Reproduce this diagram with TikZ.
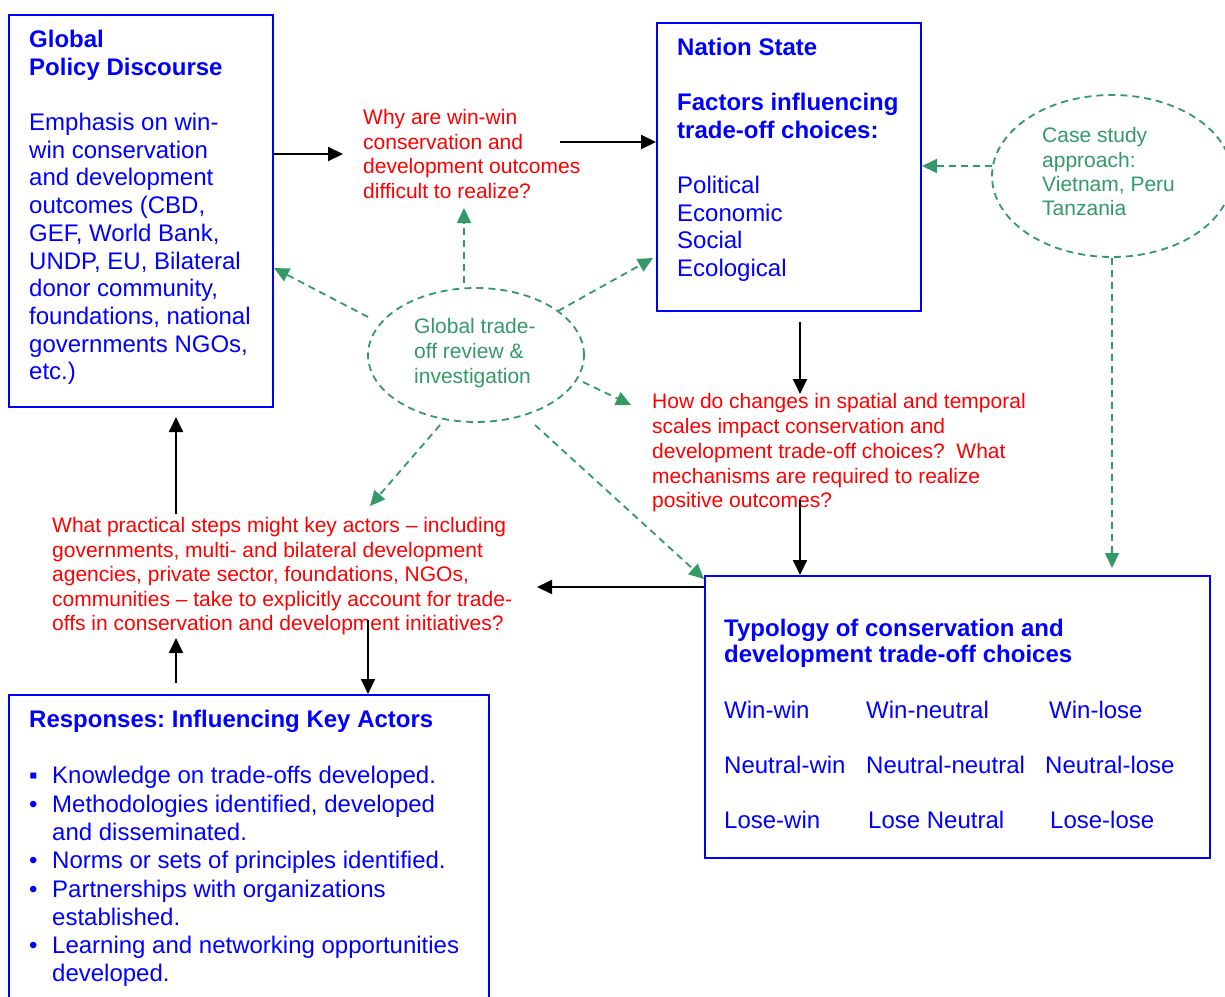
\documentclass[tikz,border=0pt]{standalone}
\usepackage{fontspec}
\setmainfont{Liberation Sans}
\usetikzlibrary{arrows.meta,shapes.geometric}
\definecolor{bblue}{RGB}{0,0,255}
\definecolor{rred}{RGB}{255,0,0}
\definecolor{ggreen}{RGB}{51,153,102}
\frenchspacing
\tikzset{
  bluebox/.style={draw=bblue, line width=2pt, anchor=north west, inner sep=0pt},
  greenell/.style={draw=ggreen, ellipse, line width=1.8pt, dash pattern=on 7pt off 5pt, inner sep=0pt},
  blk/.style={draw=black, line width=2pt, -{Triangle[length=15pt,width=14pt]}},
  grn/.style={draw=ggreen, line width=1.8pt, dash pattern=on 7pt off 5pt, -{Triangle[length=15pt,width=14pt]}},
  btxt/.style={text=bblue, anchor=north west, inner sep=0pt, align=left, font=\fontsize{24}{27.7}\selectfont},
  bitem/.style={text=bblue, anchor=base west, inner sep=0pt, font=\fontsize{24}{28}\selectfont},
  rtxt/.style={text=rred, anchor=north west, inner sep=0pt, align=left, font=\fontsize{21}{24.5}\selectfont},
  gtxt/.style={text=ggreen, anchor=north west, inner sep=0pt, align=left, font=\fontsize{21}{24.5}\selectfont},
}
\begin{document}
\begin{tikzpicture}[x=1pt,y=-1pt]
\useasboundingbox (0,0) rectangle (1225,996);

% boxes
\node[bluebox, minimum width=264pt, minimum height=392pt] (gpd) at (8,14) {};
\node[bluebox, minimum width=264pt, minimum height=288pt] (ns) at (656,22) {};
\node[bluebox, minimum width=505pt, minimum height=282pt] (ty) at (704,575) {};
\node[bluebox, minimum width=480pt, minimum height=330pt] (rs) at (8,694) {};

% ellipses
\node[greenell, minimum width=216pt, minimum height=134pt] (gte) at (476,355) {};
\node[greenell, minimum width=240pt, minimum height=162pt] (cs) at (1112,176) {};

% global policy discourse text
\node[btxt, font=\bfseries\fontsize{24}{28}\selectfont] (gpdt) at (29,28) {\strut Global\\Policy Discourse};
\node[btxt] (gpdb) at (29,111) {\strut Emphasis on win-\\win conservation\\and development\\outcomes (CBD,\\GEF, World Bank,\\UNDP, EU, Bilateral\\donor community,\\foundations, national\\governments NGOs,\\etc.)};

% nation state text
\node[btxt, font=\bfseries\fontsize{24}{28}\selectfont] (nst) at (677,36) {\strut Nation State};
\node[btxt, font=\bfseries\fontsize{24}{28}\selectfont] (nsf) at (677,91) {\strut Factors influencing\\trade-off choices:};
\node[btxt] (nsl) at (677,174) {\strut Political\\Economic\\Social\\Ecological};

% typology text
\node[btxt, font=\bfseries\fontsize{24}{26}\selectfont] (tyt) at (724,618.4) {\strut Typology of conservation and\\development trade-off choices};
\node[bitem] (t11) at (724,718.6) {Win-win};
\node[bitem] (t12) at (866,718.6) {Win-neutral};
\node[bitem] (t13) at (1049,718.6) {Win-lose};
\node[bitem] (t21) at (724,773.6) {Neutral-win};
\node[bitem] (t22) at (866,773.6) {Neutral-neutral};
\node[bitem] (t23) at (1045,773.6) {Neutral-lose};
\node[bitem] (t31) at (724,828.6) {Lose-win};
\node[bitem] (t32) at (868,828.6) {Lose Neutral};
\node[bitem] (t33) at (1050,828.6) {Lose-lose};

% responses text
\node[btxt, font=\bfseries\fontsize{24}{28}\selectfont] (rst) at (29,708) {\strut Responses: Influencing Key Actors};
\node[btxt, font=\fontsize{24}{28.3}\selectfont] (rsb) at (29,763.8) {\strut ▪\\•\\\\•\\•\\\\•};
\node[btxt, font=\fontsize{24}{28.3}\selectfont] (rsl) at (52,763.8) {\strut Knowledge on trade-offs developed.\\Methodologies identified, developed\\and disseminated.\\Norms or sets of principles identified.\\Partnerships with organizations\\established.\\Learning and networking opportunities\\developed.};

% red questions
\node[rtxt] (q1) at (363,107.4) {\strut Why are win-win\\conservation and\\development outcomes\\difficult to realize?};
\node[rtxt, font=\fontsize{21}{24.75}\selectfont] (q2) at (652,391.3) {\strut How do changes in spatial and temporal\\scales impact conservation and\\development trade-off choices?\ \ What\\mechanisms are required to realize\\positive outcomes?};
\node[rtxt] (q3) at (52,515.4) {\strut What practical steps might key actors – including\\governments, multi- and bilateral development\\agencies, private sector, foundations, NGOs,\\communities – take to explicitly account for trade-\\offs in conservation and development initiatives?};

% green texts
\node[gtxt, font=\fontsize{21}{25}\selectfont] (gtet) at (414,316) {\strut Global trade-\\off review \&\\investigation};
\node[gtxt, font=\fontsize{21}{24.3}\selectfont] (cst) at (1042,125.5) {\strut Case study\\approach:\\Vietnam, Peru\\Tanzania};

% coordinates for connector ends
\coordinate (q1in) at (343,154);
\coordinate (q1out) at (560,142);
\coordinate (nsdown) at (800,322);
\coordinate (q2top) at (800,394);
\coordinate (q2bot) at (800,500);
\coordinate (tyl) at (704,587);
\coordinate (q3r) at (537,587);
\coordinate (q3top) at (176,514);
\coordinate (gpdbot) at (176,417);
\coordinate (rsup) at (176,683);
\coordinate (q3bot) at (176,638);
\coordinate (q3mid) at (368,620);

\coordinate (e1) at (464,283);
\coordinate (q1b) at (464,208);
\coordinate (e2) at (368,317);
\coordinate (gpdr) at (274,268);
\coordinate (e3) at (558,311);
\coordinate (nsl2) at (653,258);
\coordinate (e4) at (583,382);
\coordinate (q2l) at (631,405);
\coordinate (e5) at (440,425);
\coordinate (q3t) at (370,506);
\coordinate (e6) at (535,425);
\coordinate (tyc) at (704,579);
\coordinate (cs1) at (992,166);
\coordinate (nsr) at (922,166);
\coordinate (tyn) at (1112,568);

% black connectors
\draw[blk] (gpd.east |- q1in) -- (q1in);
\draw[blk] (q1out) -- (q1out -| ns.west);
\draw[blk] (nsdown) -- (q2top);
\draw[blk] (q2bot) -- (q2bot |- ty.north);
\draw[blk] (tyl) -- (q3r);
\draw[blk] (q3top) -- (gpdbot);
\draw[blk] (rsup) -- (q3bot);
\draw[blk] (q3mid) -- (q3mid |- rs.north);

% green connectors
\draw[grn] (e1) -- (q1b);
\draw[grn] (e2) -- (gpdr);
\draw[grn] (e3) -- (nsl2);
\draw[grn] (e4) -- (q2l);
\draw[grn] (e5) -- (q3t);
\draw[grn] (e6) -- (tyc);
\draw[grn] (cs1) -- (nsr);
\draw[grn] (cs.south) -- (tyn);
\end{tikzpicture}
\end{document}
